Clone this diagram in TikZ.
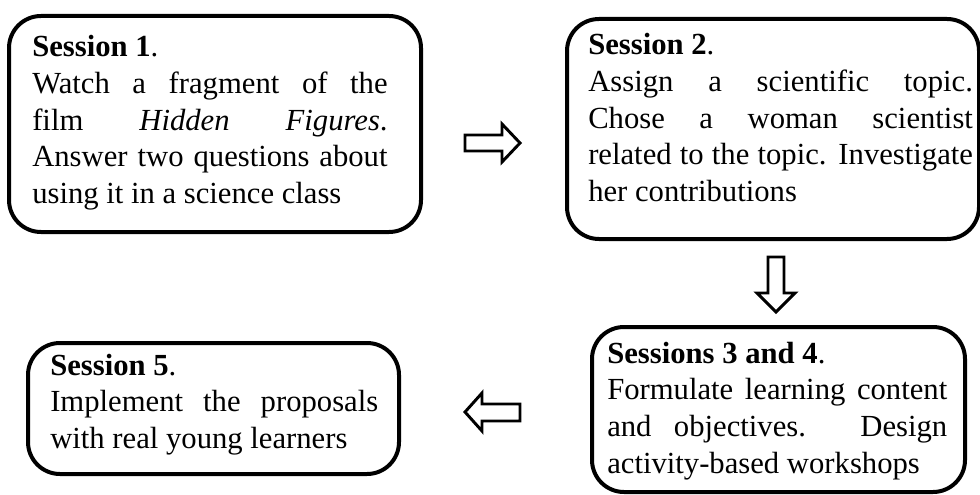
\documentclass[tikz,border=0pt]{standalone}
\usepackage{fontspec}
\setmainfont{Liberation Serif}
\begin{document}
\begin{tikzpicture}[x=0.75pt,y=-0.75pt,
  box/.style={draw, line width=3pt, rounded corners=24pt, inner sep=0pt, anchor=north west},
  txt/.style={anchor=base west, inner sep=0pt, font=\fontsize{23}{27.5}\selectfont},
  blockarrow/.style={draw, line width=2.2pt, fill=white, line join=miter}]
\useasboundingbox (0,0) rectangle (980,495);
% boxes
\node[box, minimum width=309pt, minimum height=162pt] (b1) at (7,14) {};
\node[box, minimum width=309pt, minimum height=165pt] (b2) at (565,17) {};
\node[box, minimum width=279.75pt, minimum height=123.75pt] (b3) at (590,325) {};
\node[box, minimum width=278.25pt, minimum height=98.25pt] (b5) at (26,341) {};
% texts
\node[txt] (t1) at (32,57) {\parbox[t]{266.5pt}{\textbf{Session 1}.\\
Watch a fragment of the\linebreak film \textit{Hidden Figures}.\linebreak Answer two questions about\linebreak using it in a science class}};
\node[txt] (t2) at (588,55) {\parbox[t]{288.5pt}{\textbf{Session 2}.\\
Assign a scientific topic.\linebreak Chose a woman scientist\linebreak related to the topic. Investigate\linebreak her contributions}};
\node[txt] (t3) at (607,363) {\parbox[t]{255pt}{\textbf{Sessions 3 and 4}.\\
Formulate learning content\linebreak and objectives. Design\linebreak activity-based workshops}};
\node[txt] (t5) at (50,375) {\parbox[t]{246pt}{\textbf{Session 5}.\\
Implement the proposals\linebreak with real young learners}};
% block arrows
\draw[blockarrow] (465,135) -- (502,135) -- (502,124) -- (520,143) -- (502,162) -- (502,151) -- (465,151) -- cycle;
\draw[blockarrow] (768,257) -- (784,257) -- (784,293) -- (795,293) -- (776,312) -- (757,293) -- (768,293) -- cycle;
\draw[blockarrow] (520,404) -- (482,404) -- (482,393) -- (465,412) -- (482,431) -- (482,421) -- (520,421) -- cycle;
\end{tikzpicture}
\end{document}
